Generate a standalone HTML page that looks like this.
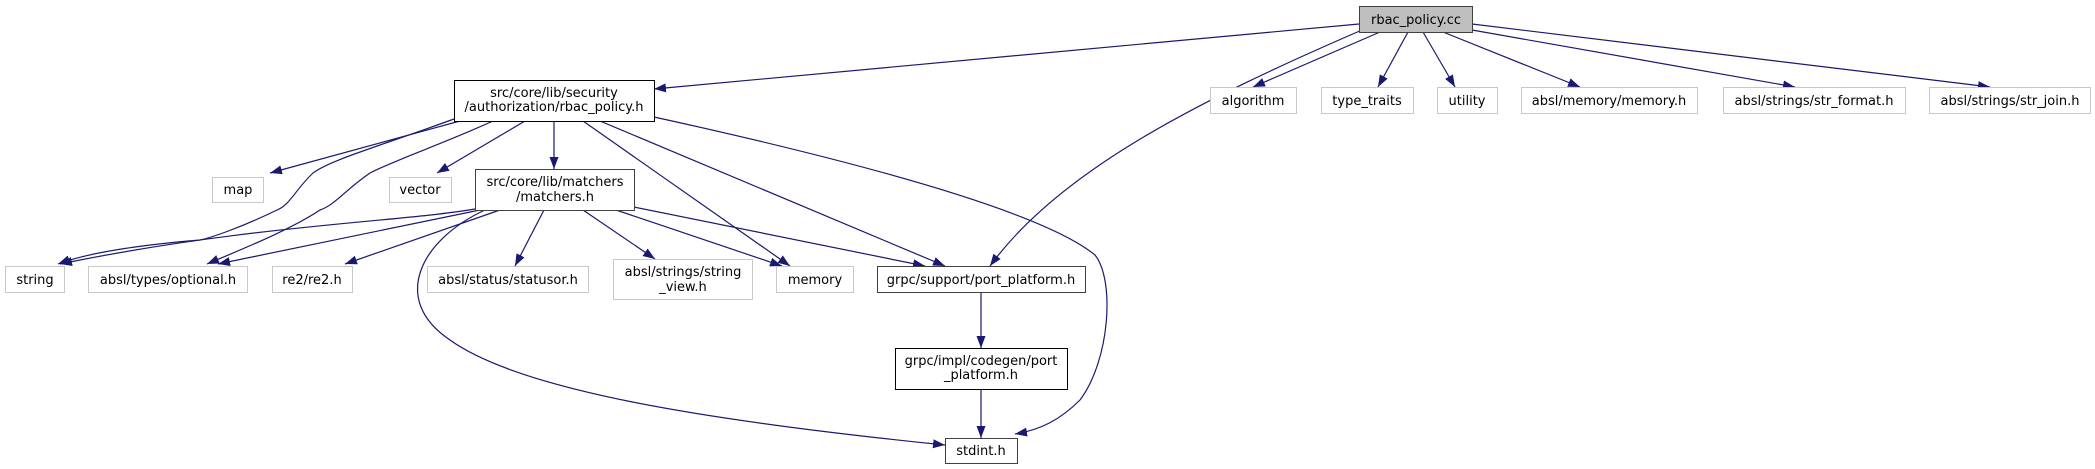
<!DOCTYPE html>
<html><head><meta charset="utf-8"><style>
html,body{margin:0;padding:0;background:#fff;width:2095px;height:469px;overflow:hidden}
text{font-family:"DejaVu Sans","Liberation Sans",sans-serif;font-size:13px;fill:#000}
</style></head><body>
<svg width="2095" height="469" viewBox="0 0 2095 469" xmlns="http://www.w3.org/2000/svg">
<defs><marker id="a" viewBox="0 0 12 10" refX="12" refY="5" markerWidth="12" markerHeight="10" markerUnits="userSpaceOnUse" orient="auto"><path d="M0,0.5 L12,5 L0,9.5 z" fill="#191970"/></marker></defs>
<g fill="none" stroke="#191970" stroke-width="1.2" marker-end="url(#a)">
<path d="M1359,24 L654,89"/>
<path d="M1362,30 C1200,100 1060,170 990,266"/>
<path d="M1380,32 L1253,87"/>
<path d="M1408,32 L1378,87"/>
<path d="M1423,32 L1455,87"/>
<path d="M1443,32 L1580,87"/>
<path d="M1472,30 L1795,87"/>
<path d="M1472,24 L1990,87"/>
<path d="M460,121 L270,173"/>
<path d="M525,121 L437,173"/>
<path d="M554,121 L554,169"/>
<path d="M454,119 C380,146 330,160 313,173 C295,190 290,205 277,210 C240,228 210,238 200,240 C140,245 90,252 58,264"/>
<path d="M493,121 C440,145 395,160 370,173 C345,190 335,205 320,210 C290,230 240,250 207,264"/>
<path d="M583,121 L790,266"/>
<path d="M600,121 L945,266"/>
<path d="M654,117 C850,160 1040,210 1095,255 C1115,280 1110,360 1080,400 C1060,420 1040,430 1015,434"/>
<path d="M475,209 C400,222 250,225 60,264"/>
<path d="M480,210 L218,264"/>
<path d="M500,210 L345,264"/>
<path d="M544,210 L515,266"/>
<path d="M583,210 L655,259"/>
<path d="M616,210 L782,266"/>
<path d="M634,207 L925,266"/>
<path d="M485,210 C420,240 390,300 450,340 C520,390 700,420 945,445"/>
<path d="M981,292 L981,348"/>
<path d="M981,389 L981,438"/>
</g>
<g stroke-width="1">
<rect x="1359.5" y="6.5" width="113" height="26" fill="#bfbfbf" stroke="#404040"/>
<rect x="454.5" y="80.5" width="200" height="41" fill="#fff" stroke="#000"/>
<rect x="475.5" y="169.5" width="159" height="41" fill="#fff" stroke="#404040"/>
<rect x="877.5" y="266.5" width="208" height="26" fill="#fff" stroke="#404040"/>
<rect x="895.5" y="348.5" width="172" height="41" fill="#fff" stroke="#000"/>
<rect x="945.5" y="438.5" width="72" height="25" fill="#fff" stroke="#404040"/>
</g>
<g fill="#fff" stroke="#c8c8c8">
<rect x="1210.5" y="87.5" width="86" height="26"/>
<rect x="1321.5" y="87.5" width="92" height="26"/>
<rect x="1437.5" y="87.5" width="60" height="26"/>
<rect x="1521.5" y="87.5" width="176" height="26"/>
<rect x="1723.5" y="87.5" width="182" height="26"/>
<rect x="1929.5" y="87.5" width="161" height="26"/>
<rect x="212.5" y="177.5" width="51" height="25"/>
<rect x="389.5" y="177.5" width="62" height="25"/>
<rect x="5.5" y="266.5" width="59" height="26"/>
<rect x="88.5" y="266.5" width="159" height="26"/>
<rect x="272.5" y="266.5" width="80" height="26"/>
<rect x="427.5" y="266.5" width="161" height="26"/>
<rect x="613.5" y="259.5" width="139" height="40"/>
<rect x="776.5" y="266.5" width="77" height="26"/>
</g>
<g text-anchor="middle">
<text x="1416" y="24">rbac_policy.cc</text>
<text x="554" y="97">src/core/lib/security</text>
<text x="554" y="111">/authorization/rbac_policy.h</text>
<text x="555" y="186">src/core/lib/matchers</text>
<text x="555" y="201">/matchers.h</text>
<text x="981" y="284">grpc/support/port_platform.h</text>
<text x="981" y="365">grpc/impl/codegen/port</text>
<text x="981" y="379">_platform.h</text>
<text x="981" y="455">stdint.h</text>
<text x="1253" y="105">algorithm</text>
<text x="1367" y="105">type_traits</text>
<text x="1467" y="105">utility</text>
<text x="1609" y="105">absl/memory/memory.h</text>
<text x="1814" y="105">absl/strings/str_format.h</text>
<text x="2010" y="105">absl/strings/str_join.h</text>
<text x="238" y="194">map</text>
<text x="420" y="194">vector</text>
<text x="35" y="284">string</text>
<text x="168" y="284">absl/types/optional.h</text>
<text x="312" y="284">re2/re2.h</text>
<text x="508" y="284">absl/status/statusor.h</text>
<text x="683" y="276">absl/strings/string</text>
<text x="683" y="291">_view.h</text>
<text x="815" y="284">memory</text>
</g>
</svg>
</body></html>
